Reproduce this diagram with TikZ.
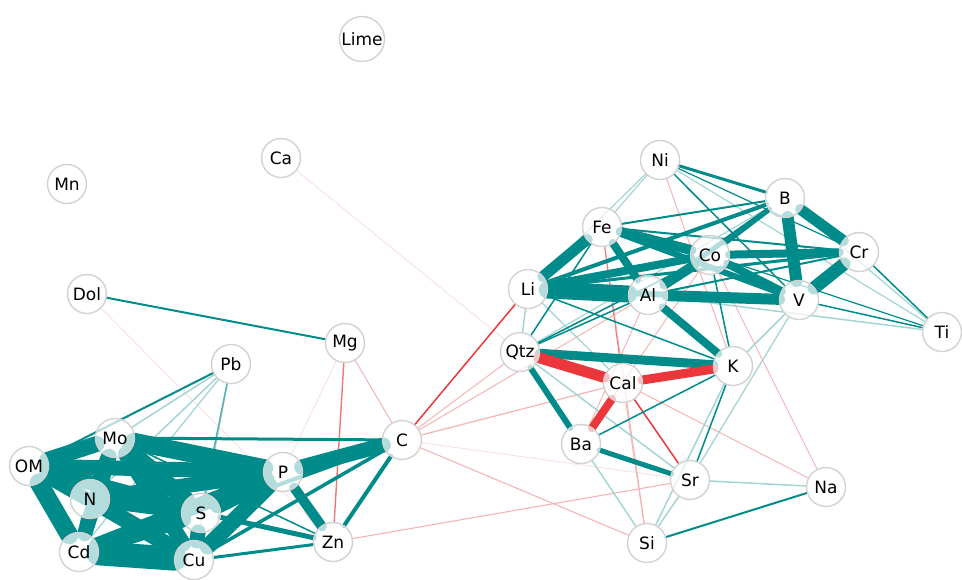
\documentclass[tikz,border=0pt]{standalone}
\usepackage{fontspec}
\setmainfont{DejaVu Sans}
\usetikzlibrary{backgrounds}
\definecolor{tl}{RGB}{0,139,139}
\definecolor{mtl}{RGB}{90,175,175}
\definecolor{ltl}{RGB}{165,212,212}
\definecolor{rd}{RGB}{235,55,60}
\definecolor{mrd}{RGB}{238,120,120}
\definecolor{lrd}{RGB}{245,180,180}
\definecolor{frd}{RGB}{250,226,226}
\definecolor{ring}{RGB}{210,210,210}
\begin{document}
\begin{tikzpicture}[x=1pt,y=-1pt,
  nd/.style={circle,draw=ring,line width=1.4pt,fill=white,fill opacity=0.7,text opacity=1,
             minimum size=39pt,inner sep=0pt,font=\fontsize{17}{17}\selectfont},
  big/.style={minimum size=45pt},
  edge/.style={line cap=round,shorten <=-1pt,shorten >=-1pt}]
\useasboundingbox (0,0) rectangle (962,579);
% nodes
\node[nd,big] (Lime) at (362,39) {Lime};
\node[nd] (Ca) at (281,158) {Ca};
\node[nd] (Mn) at (67,184) {Mn};
\node[nd] (Dol) at (87,294) {Dol};
\node[nd] (Pb) at (231,364) {Pb};
\node[nd] (Mg) at (345,343) {Mg};
\node[nd] (C) at (402,440) {C};
\node[nd] (Mo) at (115,438) {Mo};
\node[nd] (OM) at (29,466) {OM};
\node[nd] (N) at (90,499) {N};
\node[nd] (P) at (283,472) {P};
\node[nd] (S) at (201,513) {S};
\node[nd] (Cd) at (79,552) {Cd};
\node[nd] (Cu) at (194,560) {Cu};
\node[nd] (Zn) at (333,542) {Zn};
\node[nd] (Ni) at (660,160) {Ni};
\node[nd] (B) at (785,198) {B};
\node[nd] (Fe) at (602,227) {Fe};
\node[nd] (Co) at (710,255) {Co};
\node[nd] (Cr) at (859,252) {Cr};
\node[nd] (Li) at (528,289) {Li};
\node[nd] (Al) at (648,295) {Al};
\node[nd] (V) at (799,300) {V};
\node[nd] (Ti) at (942,332) {Ti};
\node[nd] (Qtz) at (520,352) {Qtz};
\node[nd] (K) at (733,366) {K};
\node[nd] (Cal) at (623,383) {Cal};
\node[nd] (Ba) at (581,444) {Ba};
\node[nd] (Sr) at (690,480) {Sr};
\node[nd] (Na) at (826,487) {Na};
\node[nd] (Si) at (647,543) {Si};
\begin{pgfonlayer}{background}
% faint / light red edges
\foreach \a/\b/\w in {Ca/Qtz/1,Dol/Zn/1,Mg/P/1,C/Sr/1}
  \draw[edge,frd,line width=\w pt] (\a) -- (\b);
\foreach \a/\b/\w in {Mg/C/1,C/Qtz/1,C/Al/1,C/Cal/1.2,C/Si/1.1,Zn/Sr/1.1,
   Fe/Si/1,Co/Na/1,Co/Ba/1,Cal/Si/1.1,Cal/Na/1,Qtz/Co/1,Ni/K/1,Al/Ba/1}
  \draw[edge,lrd,line width=\w pt] (\a) -- (\b);
\foreach \a/\b/\w in {Mg/Zn/1.4,Fe/Cal/1}
  \draw[edge,mrd,line width=\w pt] (\a) -- (\b);
\foreach \a/\b/\w in {C/Li/1.5,Cal/Sr/1.5}
  \draw[edge,rd,line width=\w pt] (\a) -- (\b);
% light teal edges
\foreach \a/\b/\w in {Pb/Mo/1.5,Pb/N/1.5,Pb/Cd/1.3,Pb/Cu/1.3,
   Ni/Fe/1.2,Ni/Li/1.2,Ni/Ti/1.2,B/Ti/1.2,B/Qtz/1.2,Al/Ti/1.5,V/K/1.5,V/Sr/1.3,
   Li/Qtz/1.5,Li/Cal/1.2,Qtz/Sr/1.5,Ba/Si/1.5,K/Si/1.5,Sr/Na/1.5,Si/Sr/1.5}
  \draw[edge,ltl,line width=\w pt] (\a) -- (\b);
\foreach \a/\b/\w in {Pb/S/1.5}
  \draw[edge,mtl,line width=\w pt] (\a) -- (\b);
% teal edges
\foreach \a/\b/\w in {Pb/OM/2,Dol/Mg/2,
   OM/Mo/16,OM/N/8,OM/Cd/18,OM/S/15,OM/Cu/14,OM/P/15,
   Mo/N/13,Mo/Cd/15,Mo/S/17,Mo/Cu/15,Mo/P/18,Mo/C/3,Mo/Zn/1.5,
   N/Cd/10,N/S/15,N/Cu/16,N/P/15,
   Cd/S/17,Cd/Cu/24,Cd/P/15,
   S/Cu/15,S/P/18,S/Zn/5,S/C/4,
   Cu/P/16,Cu/Zn/3,Cu/C/3.5,
   P/C/15,P/Zn/10,Zn/C/4,
   Ni/B/3,Ni/V/1.5,Ni/Cr/1.2,
   B/Fe/2,B/Li/4,B/Co/4,B/Al/5,B/V/12,B/Cr/11,
   Fe/Li/11,Fe/Co/10,Fe/Al/8,Fe/V/6,Fe/Cr/2,
   Co/Li/8,Co/Al/10,Co/Cr/8,Co/V/8,Co/K/1.5,Co/Ti/1.2,Co/Qtz/1.5,
   Li/Al/17,Li/V/6,Li/Cr/3,Li/K/1.5,
   Al/V/11,Al/K/8,Al/Qtz/1.5,Al/Cr/2,
   Cr/V/13,Cr/Ti/1.5,V/Ti/1.5,
   Qtz/K/9,Qtz/Ba/6,Qtz/Fe/1.5,
   Ba/Sr/5,Ba/K/1.5,K/Sr/1.5,Si/Na/2}
  \draw[edge,tl,line width=\w pt] (\a) -- (\b);
% strong red edges
\foreach \a/\b/\w in {Qtz/Cal/11,Cal/K/9,Cal/Ba/8}
  \draw[edge,rd,line width=\w pt] (\a) -- (\b);
\end{pgfonlayer}
\end{tikzpicture}
\end{document}
